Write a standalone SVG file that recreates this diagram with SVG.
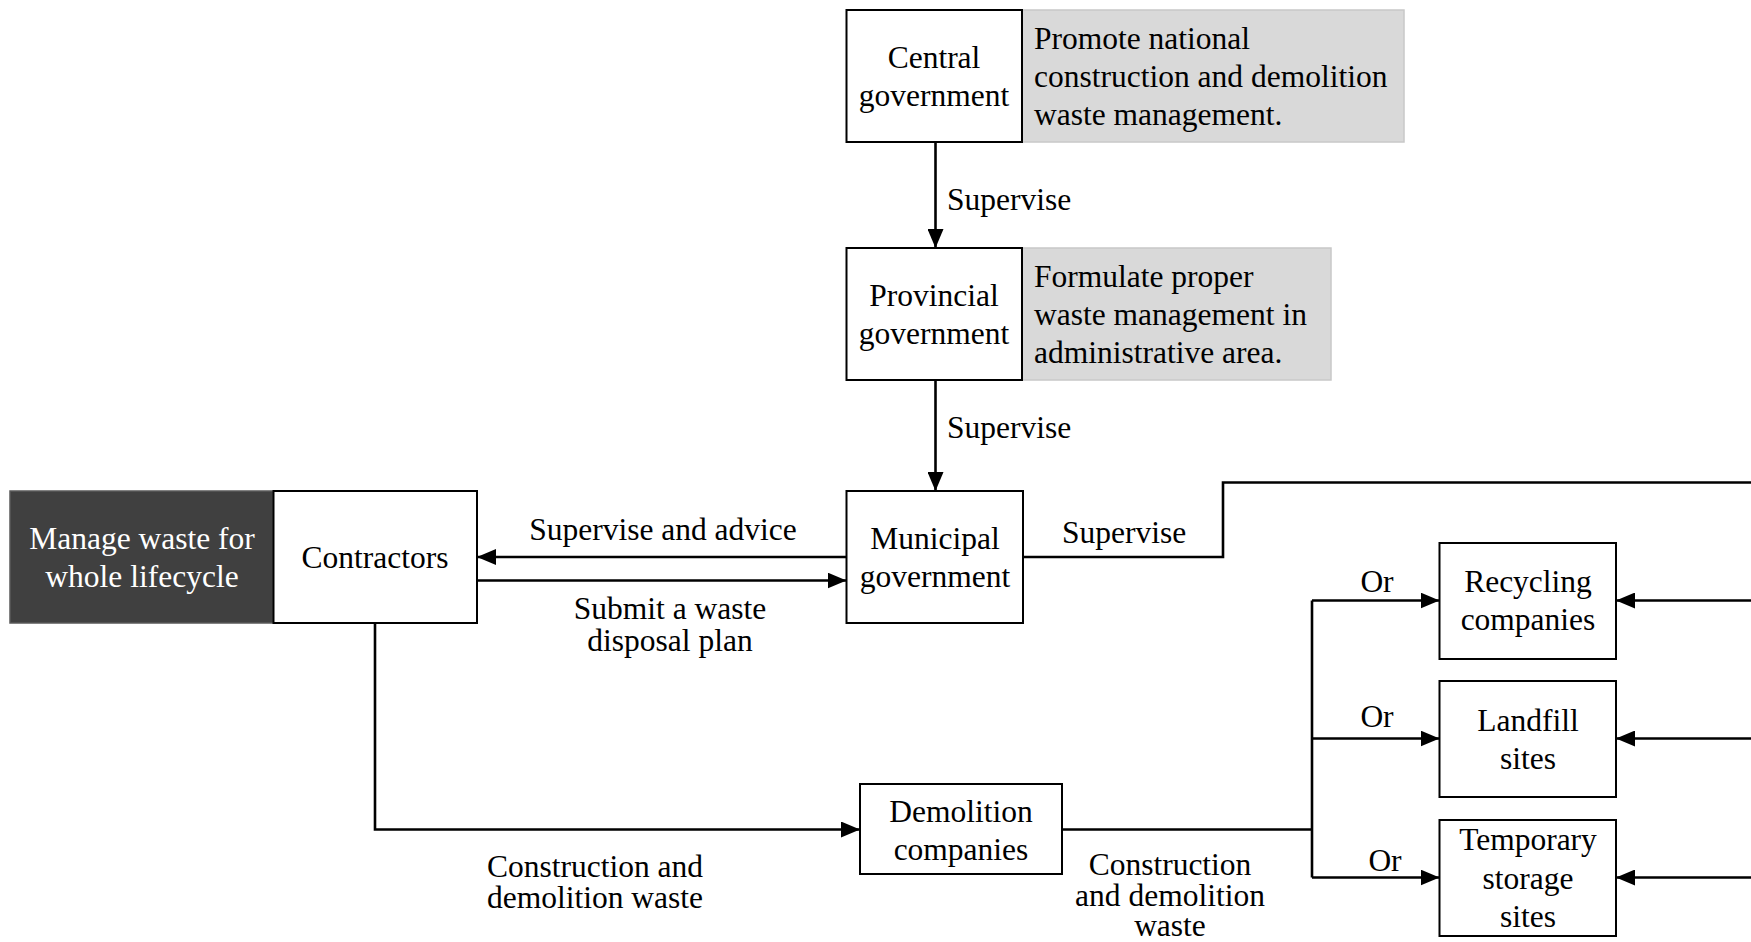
<svg xmlns="http://www.w3.org/2000/svg" width="1751" height="942" viewBox="0 0 1751 942">
<defs>
<style>
text{font-family:"Liberation Serif","Times New Roman",serif;font-size:31.5px;fill:#000}
.c{text-anchor:middle}
.box{fill:#fff;stroke:#000;stroke-width:2}
.note{fill:#d9d9d9;stroke:#c8c8c8;stroke-width:1.5}
.dark{fill:#404040;stroke:#595959;stroke-width:1.5}
.w{fill:#fff}
.ln{fill:none;stroke:#000;stroke-width:2.6}
.ar{marker-end:url(#ah)}
</style>
<marker id="ah" markerUnits="userSpaceOnUse" markerWidth="20" markerHeight="16" refX="19" refY="8" orient="auto">
<path d="M0,0 L19,8 L0,16 Z" fill="#000"/>
</marker>
</defs>
<rect width="1751" height="942" fill="#fff"/>

<g id="connectors">
<path class="ln ar" d="M935.5,142 V248"/>
<path class="ln ar" d="M935.5,380 V491"/>
<path class="ln ar" d="M846.5,557 H477"/>
<path class="ln ar" d="M477,580.5 H846.5"/>
<path class="ln" d="M1023,557 H1223 V482.5 H1751"/>
<path class="ln ar" d="M375,623 V829.5 H860"/>
<path class="ln" d="M1062,829.5 H1312"/>
<path class="ln" d="M1312,600.5 V877.5"/>
<path class="ln ar" d="M1312,600.5 H1439.5"/>
<path class="ln ar" d="M1312,738.5 H1439.5"/>
<path class="ln ar" d="M1312,877.5 H1439.5"/>
<path class="ln ar" d="M1751,600.5 H1616"/>
<path class="ln ar" d="M1751,738.5 H1616"/>
<path class="ln ar" d="M1751,877.5 H1616"/>
<text x="947" y="210">Supervise</text>
<text x="947" y="438">Supervise</text>
<text class="c" x="663" y="540">Supervise and advice</text>
<text class="c" x="670" y="619">Submit a waste</text>
<text class="c" x="670" y="651">disposal plan</text>
<text x="1062" y="543">Supervise</text>
<text class="c" x="595" y="877">Construction and</text>
<text class="c" x="595" y="908">demolition waste</text>
<text class="c" x="1170" y="875">Construction</text>
<text class="c" x="1170" y="906">and demolition</text>
<text class="c" x="1170" y="936">waste</text>
<text class="c" x="1377" y="592">Or</text>
<text class="c" x="1377" y="727">Or</text>
<text class="c" x="1385" y="871">Or</text>
</g>

<g id="central">
<rect class="note" x="1022" y="10" width="382" height="132"/>
<rect class="box" x="846.5" y="10" width="175.5" height="132"/>
<text class="c" x="934" y="68">Central</text>
<text class="c" x="934" y="106">government</text>
<text x="1034" y="49">Promote national</text>
<text x="1034" y="87">construction and demolition</text>
<text x="1034" y="125">waste management.</text>
</g>

<g id="provincial">
<rect class="note" x="1022" y="248" width="309" height="132"/>
<rect class="box" x="846.5" y="248" width="175.5" height="132"/>
<text class="c" x="934" y="306">Provincial</text>
<text class="c" x="934" y="344">government</text>
<text x="1034" y="287">Formulate proper</text>
<text x="1034" y="325">waste management in</text>
<text x="1034" y="363">administrative area.</text>
</g>

<g id="municipal">
<rect class="box" x="846.5" y="491" width="176.5" height="132"/>
<text class="c" x="935" y="549">Municipal</text>
<text class="c" x="935" y="587">government</text>
</g>

<g id="contractors">
<rect class="dark" x="10" y="491" width="263.5" height="132"/>
<text class="c w" x="142" y="549">Manage waste for</text>
<text class="c w" x="142" y="587">whole lifecycle</text>
<rect class="box" x="273.5" y="491" width="203.5" height="132"/>
<text class="c" x="375" y="568">Contractors</text>
</g>

<g id="demolition">
<rect class="box" x="860" y="784" width="202" height="90"/>
<text class="c" x="961" y="822">Demolition</text>
<text class="c" x="961" y="860">companies</text>
</g>

<g id="recycling">
<rect class="box" x="1439.5" y="543" width="176.5" height="116"/>
<text class="c" x="1528" y="592">Recycling</text>
<text class="c" x="1528" y="630">companies</text>
</g>

<g id="landfill">
<rect class="box" x="1439.5" y="681" width="176.5" height="116"/>
<text class="c" x="1528" y="731">Landfill</text>
<text class="c" x="1528" y="769">sites</text>
</g>

<g id="temporary">
<rect class="box" x="1439.5" y="820" width="176.5" height="116"/>
<text class="c" x="1528" y="850">Temporary</text>
<text class="c" x="1528" y="889">storage</text>
<text class="c" x="1528" y="927">sites</text>
</g>
</svg>
